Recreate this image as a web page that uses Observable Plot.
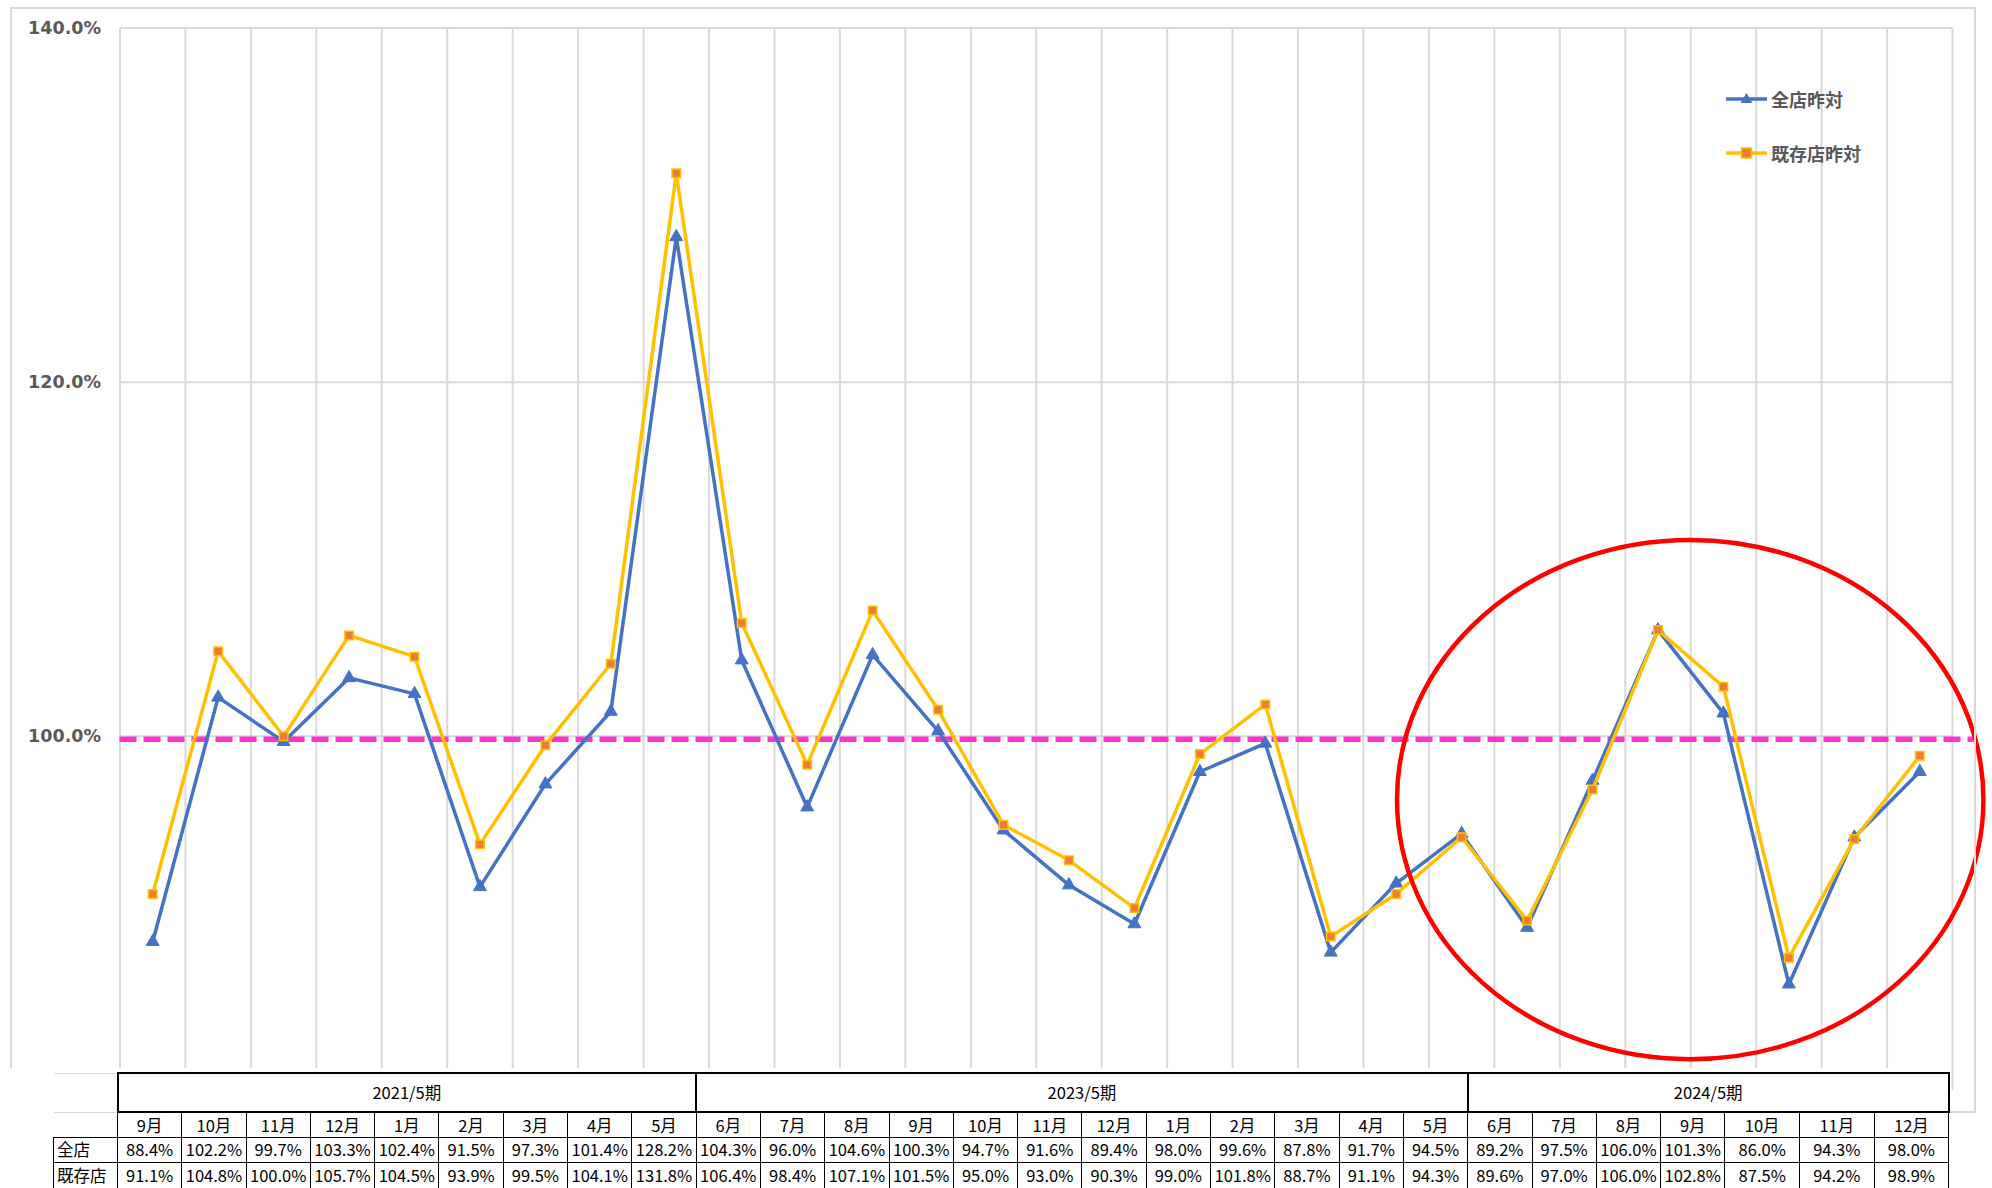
<!DOCTYPE html>
<html><head><meta charset="utf-8">
<script src="https://cdn.jsdelivr.net/npm/d3@7"></script>
<script src="https://cdn.jsdelivr.net/npm/@observablehq/plot@0.6"></script>
<style>
html,body{margin:0;padding:0;background:#fff;}
#wrap{position:relative;width:1992px;height:1188px;overflow:hidden;background:#fff;}
#chart{position:absolute;left:0;top:0;}
#frame{position:absolute;left:10px;top:7px;width:1966px;height:1106px;border:2px solid #d9d9d9;box-sizing:border-box;pointer-events:none;}
#cover{position:absolute;left:0;top:1068px;width:1950px;height:120px;background:#fff;}
#legend{position:absolute;left:1726px;top:0;font:bold 18px "Noto Sans CJK JP";color:#595959;}
.leg{position:absolute;left:0;height:24px;display:flex;align-items:center;white-space:nowrap;}
.leg svg{display:block;}
#tbl{position:absolute;left:53px;top:1072px;border-collapse:collapse;table-layout:fixed;font:16.5px "Noto Sans CJK JP";color:#000;}
#tbl td{border:1.5px solid #000;padding:0;text-align:center;white-space:nowrap;overflow:hidden;line-height:1;}
#tbl td.period{border-width:2.5px;}
#tbl td.blank{border:none;}
#tbl td.lab{text-align:left;padding-left:3px;}
</style>
</head><body>
<div id="wrap">
  <div id="chart"></div>
  <div id="frame"></div>
  <div id="cover"></div>
  <div id="legend"></div>
  <table id="tbl"></table>
</div>
<script>
// ---- data ----
const periodLabels = ["2021/5期", "2023/5期", "2024/5期"];
const periodSpans = [9, 12, 7];
const months = ["9月","10月","11月","12月","1月","2月","3月","4月","5月",
  "6月","7月","8月","9月","10月","11月","12月","1月","2月","3月","4月","5月",
  "6月","7月","8月","9月","10月","11月","12月"];
const allStore = [88.4,102.2,99.7,103.3,102.4,91.5,97.3,101.4,128.2,
  104.3,96.0,104.6,100.3,94.7,91.6,89.4,98.0,99.6,87.8,91.7,94.5,
  89.2,97.5,106.0,101.3,86.0,94.3,98.0];
const existingStore = [91.1,104.8,100.0,105.7,104.5,93.9,99.5,104.1,131.8,
  106.4,98.4,107.1,101.5,95.0,93.0,90.3,99.0,101.8,88.7,91.1,
  94.3,89.6,97.0,106.0,102.8,87.5,94.2,98.9];
const seriesNames = ["全店昨対", "既存店昨対"];
const rowLabels = ["全店", "既存店"];
const yTicks = [100, 120, 140];
const reference = 100;
// highlight ellipse annotation (center month index, center value, radii in months / %)
const highlight = {cx: 23.5, cy: 96.4, rx: 4.48, ry: 14.66};

// ---- chart ----
const data = months.map((m, i) => ({i, m, a: allStore[i], b: existingStore[i]}));
const gridX = d3.range(months.length + 1).map(k => k - 0.5);
const xMin = -0.5, xMax = months.length - 0.5;

function ellipseMark(index, scales) {
  const x0 = scales.x(highlight.cx), y0 = scales.y(highlight.cy);
  const rx = Math.abs(scales.x(highlight.cx + highlight.rx) - x0);
  const ry = Math.abs(scales.y(highlight.cy + highlight.ry) - y0);
  const e = document.createElementNS("http://www.w3.org/2000/svg", "ellipse");
  e.setAttribute("cx", x0); e.setAttribute("cy", y0);
  e.setAttribute("rx", rx); e.setAttribute("ry", ry);
  e.setAttribute("fill", "none"); e.setAttribute("stroke", "#ff0000");
  e.setAttribute("stroke-width", 4.5);
  return e;
}

const chart = Plot.plot({
  width: 1992, height: 1115,
  marginLeft: 119.5, marginRight: 40, marginTop: 27.5, marginBottom: 25,
  style: {background: "transparent", fontFamily: "DejaVu Sans", fontSize: "17.5px", fontWeight: "bold", color: "#595959", overflow: "visible"},
  x: {domain: [xMin, xMax], axis: null},
  y: {domain: [80, 140], ticks: yTicks, tickFormat: d => d.toFixed(1) + "%", tickSize: 0, tickPadding: 19, label: null},
  marks: [
    Plot.ruleX(gridX, {x: d => d, y1: () => 80, y2: () => 140, stroke: "#d9d9d9", strokeWidth: 2, strokeOpacity: 1}),
    Plot.ruleY(yTicks, {y: d => d, x1: () => xMin, x2: () => xMax, stroke: "#d9d9d9", strokeWidth: 2, strokeOpacity: 1}),
    Plot.ruleY([reference], {y: d => d, x1: () => xMin, x2: () => xMax + 0.32, stroke: "#ff33cc", strokeWidth: 5.5, strokeDasharray: "17,7", dy: 3, strokeOpacity: 1}),
    Plot.line(data, {x: "i", y: "a", stroke: "#4472c4", strokeWidth: 3.5}),
    Plot.dot(data, {x: "i", y: "a", symbol: "triangle", r: 4.8, fill: "#4472c4", stroke: "#4472c4", strokeWidth: 1}),
    Plot.line(data, {x: "i", y: "b", stroke: "#ffc000", strokeWidth: 3.5}),
    Plot.dot(data, {x: "i", y: "b", symbol: "square", r: 4.8, fill: "#ed7d31", stroke: "#ffc000", strokeWidth: 1.5}),
    ellipseMark
  ]
});
document.getElementById("chart").appendChild(chart);

// ---- legend ----
const legend = document.getElementById("legend");
const legTops = [87, 141];
const legColors = ["#4472c4", "#ffc000"];
seriesNames.forEach((name, k) => {
  const div = document.createElement("div");
  div.className = "leg";
  div.style.top = legTops[k] + "px";
  const marker = k === 0
    ? `<path d="M20.5,6 L26.5,16 L14.5,16 Z" fill="#4472c4"/>`
    : `<rect x="15.5" y="7" width="10" height="10" fill="#ed7d31" stroke="#ffc000" stroke-width="1.5"/>`;
  div.innerHTML = `<svg width="45" height="24"><line x1="0" y1="12" x2="41" y2="12" stroke="${legColors[k]}" stroke-width="3.5"/>${marker}</svg><span>${name}</span>`;
  legend.appendChild(div);
});

// ---- table ----
const tbl = document.getElementById("tbl");
const colW = [64].concat(months.map((m, i) => i < 25 ? 64.3 : 74.6));
const cg = document.createElement("colgroup");
colW.forEach(w => { const c = document.createElement("col"); c.style.width = w + "px"; cg.appendChild(c); });
tbl.appendChild(cg);
const fmt = v => v.toFixed(1) + "%";
let html = `<tr style="height:39px"><td class="blank" style="border-top:1px solid #d9d9d9"></td>` +
  periodLabels.map((p, k) => `<td class="period" colspan="${periodSpans[k]}">${p}</td>`).join("") + `</tr>`;
html += `<tr style="height:25px"><td class="blank" style="border-top:1px solid #d9d9d9"></td>` +
  months.map(m => `<td>${m}</td>`).join("") + `</tr>`;
[allStore, existingStore].forEach((arr, k) => {
  html += `<tr style="height:${k === 0 ? 25 : 26}px"><td class="lab">${rowLabels[k]}</td>` +
    arr.map(v => `<td>${fmt(v)}</td>`).join("") + `</tr>`;
});
tbl.insertAdjacentHTML("beforeend", html);
</script>
</body></html>
